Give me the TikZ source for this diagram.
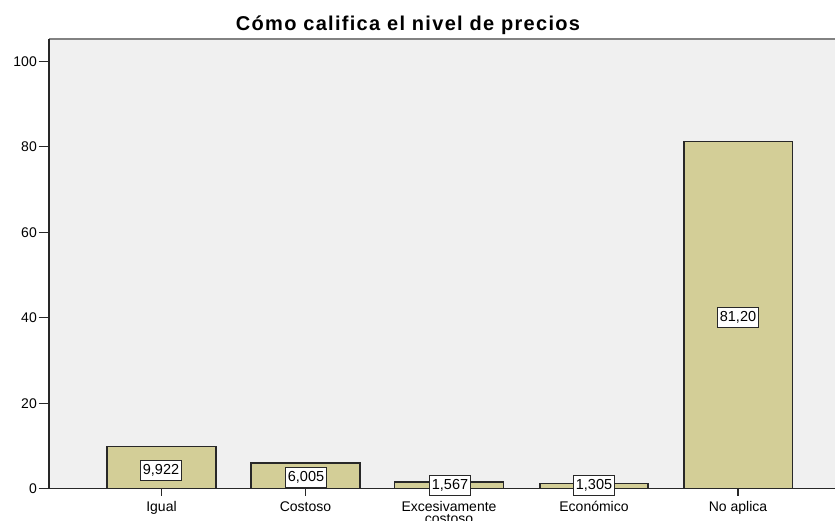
\documentclass[tikz,border=0pt]{standalone}
\usepackage{fontspec}
\setmainfont{Liberation Sans}
\newfontfamily\titlefont[LetterSpace=6.5]{Liberation Sans}
\definecolor{plotbg}{RGB}{240,240,240}
\definecolor{barfill}{RGB}{211,206,151}
\definecolor{axisc}{RGB}{40,40,40}
\definecolor{framec}{RGB}{130,130,130}
\begin{document}
\begin{tikzpicture}[x=1pt,y=-1pt,
  bar/.style={draw=axisc, line width=1.2pt, fill=barfill},
  vlabel/.style={draw=axisc, line width=0.9pt, fill=white, font=\fontsize{14.5}{16}\selectfont, inner xsep=2.5pt, inner ysep=0pt, minimum height=20pt},
  cat/.style={font=\fontsize{14}{12.5}\selectfont, anchor=base, align=center, inner sep=0pt},
  ylab/.style={font=\fontsize{14}{16}\selectfont, anchor=east, inner sep=0pt},
  axisline/.style={draw=axisc, line width=1.4pt},
  tickline/.style={draw=axisc, line width=1.3pt},
]
\useasboundingbox (0,0) rectangle (835,520);
\fill[white] (0,0) rectangle (835,520);
\fill[plotbg] (49,39) rectangle (835,489);
\draw[framec, line width=2pt] (49,39) -- (835,39);
% title
\node[font=\titlefont\bfseries\fontsize{20}{22}\selectfont, anchor=base, inner sep=0pt] (title) at (408,30.5) {Cómo califica el nivel de precios};
% bars
\draw[bar] (107,488.7) rectangle (216,446.3);
\draw[bar] (251,488.7) rectangle (360,463.0);
\draw[bar] (394.5,488.7) rectangle (503.5,482.0);
\draw[bar] (540,488.7) rectangle (648,483.1);
\draw[bar] (684,488.7) rectangle (792.5,141.6);
% axes
\draw[axisline] (49,39) -- (49,489);
\draw[axisline] (48.3,488.7) -- (835,488.7);
% y ticks and labels
\foreach \v/\yy in {0/488.7,20/403.2,40/317.7,60/232.2,80/146.7,100/61.2}{
  \draw[tickline] (38.5,\yy) -- (49,\yy);
  \node[ylab] (y\v) at (37,\yy) {\v};
}
% x ticks
\foreach \xx in {161.5,305.5,449,594,738}{
  \draw[tickline] (\xx,488.7) -- (\xx,496);
}
% value labels
\node[vlabel] (v1) at (161,470) {9,922};
\node[vlabel] (v2) at (306,477.7) {6,005};
\node[vlabel] (v3) at (450,485.3) {1,567};
\node[vlabel] (v4) at (594,485.7) {1,305};
\node[vlabel] (v5) at (738,317) {81,20};
% category labels
\node[cat] (c1) at (161.5,511) {Igual};
\node[cat] (c2) at (305.5,511) {Costoso};
\node[cat] (c3) at (449,523.5) {Excesivamente\\costoso};
\node[cat] (c4) at (594,511) {Económico};
\node[cat] (c5) at (738,511) {No aplica};
\end{tikzpicture}
\end{document}
